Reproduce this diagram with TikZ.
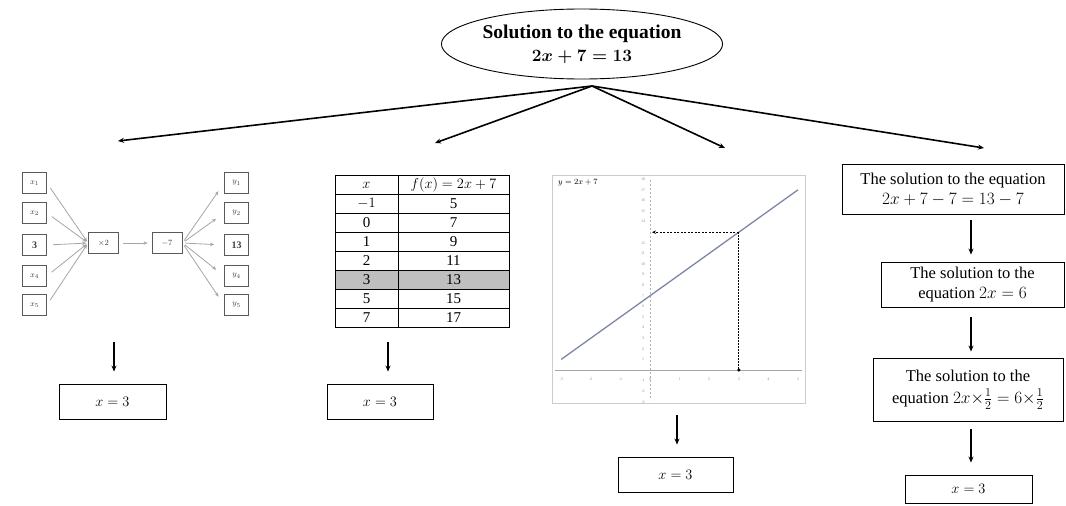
\documentclass[tikz,border=0pt]{standalone}
\usepackage{fontspec}
\setmainfont{Liberation Serif}
\usetikzlibrary{shapes.geometric,arrows.meta}
\tikzset{
  arrtip/.style={-{Stealth[length=6pt,width=5pt]}},
  mainarr/.style={arrtip,line width=1.6pt},
  downarr/.style={arrtip,line width=1.3pt},
  sbox/.style={draw,line width=0.9pt,inner sep=0pt,align=center},
  gbox/.style={draw=black!65,line width=0.8pt,minimum width=24pt,minimum height=21pt,inner sep=0pt,font=\fontsize{8}{9}\selectfont,text=black!75},
  glink/.style={draw=black!35,line width=0.8pt,-{Stealth[length=4pt,width=3.5pt]}},
  tcell/.style={inner sep=0pt,font=\fontsize{15}{16}\selectfont},
  ticklab/.style={inner sep=0pt,font=\fontsize{4}{4}\selectfont,text=black!45}
}
\begin{document}
\begin{tikzpicture}[x=1pt,y=-1pt]
\useasboundingbox (0,0) rectangle (1066,506);
\fill[white] (0,0) rectangle (1066,506);
\node[ellipse,draw,line width=0.9pt,minimum width=279pt,minimum height=70pt,inner sep=0pt,align=center,font=\fontsize{19.5}{23}\selectfont\bfseries] (topnode) at (582,44) {Solution to the equation\\{\fontsize{17}{20}\selectfont\boldmath$2x+7=13$}};
\coordinate (apex) at (592,86);
\coordinate (e1) at (118,141);
\coordinate (e2) at (435,143);
\coordinate (e3) at (725,148);
\coordinate (e4) at (984,148);
\foreach \e in {e1,e2,e3,e4} \draw[mainarr] (apex) -- (\e);
\foreach \n/\y/\t in {1/183/{$x_1$},2/213/{$x_2$},3/245/{\fontsize{10}{10}\selectfont\bfseries 3},4/276/{$x_4$},5/305/{$x_5$}}
  \node[gbox] (x\n) at (34.5,\y) {\t};
\foreach \n/\y/\t in {1/183/{$y_1$},2/213/{$y_2$},3/245/{\fontsize{10}{10}\selectfont\bfseries 13},4/276/{$y_4$},5/305/{$y_5$}}
  \node[gbox] (y\n) at (236.5,\y) {\t};
\node[gbox,minimum width=30pt] (m2) at (103.5,243) {$\times2$};
\node[gbox,minimum width=30pt] (m7) at (167,243) {$-7$};
\foreach \n in {1,...,5} \draw[glink,shorten <=6pt,shorten >=2pt] (x\n.east) -- (m2.west);
\draw[glink,shorten <=4pt,shorten >=4pt] (m2) -- (m7);
\foreach \n in {1,...,5} \draw[glink,shorten <=3pt,shorten >=10pt] (m7.east) -- (y\n.west);
\node[sbox,minimum width=107pt,minimum height=35pt,font=\fontsize{14}{16}\selectfont] (r1) at (112.5,401.5) {$x=3$};
\coordinate (a1) at (114,342);
\draw[downarr,shorten >=12pt] (a1) -- (a1 |- r1.north);
\fill[black!25] (335,270) rectangle (509,289);
\draw[line width=0.9pt] (335,175) rectangle (509,327);
\draw[line width=0.9pt] (398,175) -- (398,327);
\foreach \k in {1,...,7} \draw[line width=0.9pt] (335,175+19*\k) -- (509,175+19*\k);
\node[tcell] (h1) at (366.5,185) {$x$};
\node[tcell,font=\fontsize{15.5}{16}\selectfont] (h2) at (453.5,185) {$f(x)=2x+7$};
\foreach \k/\a/\b in {1/{$-1$}/5,2/0/7,3/1/9,4/2/11,5/3/13,6/5/15,7/7/17}{
  \node[tcell] (ca\k) at (366.5,184.5+19*\k) {\a};
  \node[tcell] (cb\k) at (453.5,184.5+19*\k) {\b};
}
\node[sbox,minimum width=106pt,minimum height=35pt,font=\fontsize{14}{16}\selectfont] (r2) at (380,401.5) {$x=3$};
\coordinate (a2) at (388,342);
\draw[downarr,shorten >=12pt] (a2) -- (a2 |- r2.north);
\draw[black!20,line width=0.8pt] (552,175) rectangle (805,403);
\draw[black!35,line width=0.7pt] (555,370) -- (802,370);
\draw[black!30,line width=0.7pt,dash pattern=on 2pt off 2pt] (650,180) -- (650,400);
\foreach \v in {-3,...,5} \node[ticklab] (xt\v) at (650+29.6*\v,379) {\v};
\foreach \v in {-3,-2,-1,1,2,3,4,5,6,7,8,9,10,11,12,14,15,16,17,18} \node[ticklab] (yt\v) at (643,370-10.6*\v) {\v};
\node[inner sep=0pt,anchor=west,font=\fontsize{8}{9}\selectfont] (glabel) at (558,183) {$y=2x+7$};
\draw[color={rgb,255:red,125;green,135;blue,165},line width=1.3pt] (561.2,359.4) -- (798,189.8);
\coordinate (p) at (738.8,232.2);
\coordinate (py) at (652,232.2);
\coordinate (px) at (738.8,370);
\draw[line width=1pt,dash pattern=on 2pt off 1.5pt,-{Stealth[length=4pt,width=3.5pt]}] (p) -- (py);
\draw[line width=1.2pt,dash pattern=on 1.5pt off 1.5pt] (p) -- (px);
\fill (px) circle (1.8pt);
\node[sbox,minimum width=115pt,minimum height=35pt,font=\fontsize{14}{16}\selectfont] (r3) at (675.5,474.5) {$x=3$};
\coordinate (a3) at (677,415);
\draw[downarr,shorten >=12pt] (a3) -- (a3 |- r3.north);
\node[sbox,minimum width=222pt,minimum height=50pt,font=\fontsize{16.5}{20}\selectfont] (s1) at (953,189) {The solution to the equation\\$2x+7-7=13-7$};
\node[sbox,minimum width=183pt,minimum height=45pt,font=\fontsize{16.5}{20}\selectfont] (s2) at (972.5,284.5) {The solution to the\\equation $2x=6$};
\node[sbox,minimum width=190pt,minimum height=63pt,font=\fontsize{16.5}{22}\selectfont] (s3) at (968,389.5) {The solution to the\\equation $2x{\times}{\textstyle\frac{1}{2}}=6{\times}{\textstyle\frac{1}{2}}$};
\node[sbox,minimum width=127pt,minimum height=28pt,font=\fontsize{14}{16}\selectfont] (s4) at (968.5,489) {$x=3$};
\coordinate (k1) at (971,0);
\draw[downarr,shorten <=6pt,shorten >=7pt] (s1.south -| k1) -- (s2.north -| k1);
\draw[downarr,shorten <=10pt,shorten >=6pt] (s2.south -| k1) -- (s3.north -| k1);
\draw[downarr,shorten <=8pt,shorten >=12pt] (s3.south -| k1) -- (s4.north -| k1);
\end{tikzpicture}
\end{document}
